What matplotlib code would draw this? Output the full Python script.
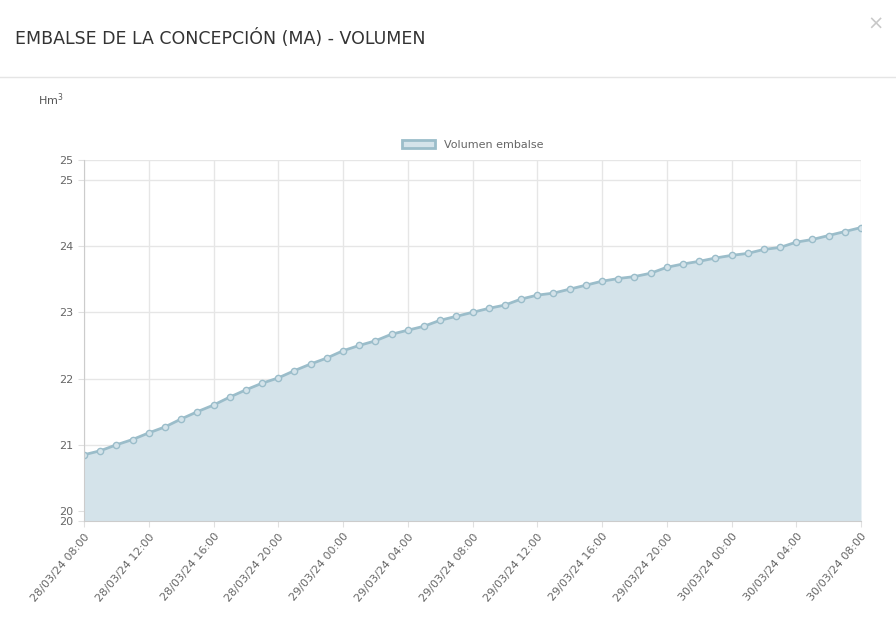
import matplotlib.pyplot as plt
import numpy as np

volumen = [20.85, 20.91, 21.00, 21.08, 21.18, 21.27, 21.39, 21.50, 21.60, 21.72,
           21.83, 21.93, 22.01, 22.12, 22.22, 22.31, 22.42, 22.50, 22.57, 22.67,
           22.73, 22.79, 22.88, 22.94, 23.00, 23.06, 23.11, 23.20, 23.26, 23.29,
           23.35, 23.41, 23.47, 23.51, 23.54, 23.59, 23.68, 23.73, 23.77, 23.82,
           23.86, 23.89, 23.95, 23.98, 24.06, 24.10, 24.16, 24.22, 24.28]
tick_labels = ["28/03/24 08:00", "28/03/24 12:00", "28/03/24 16:00", "28/03/24 20:00",
               "29/03/24 00:00", "29/03/24 04:00", "29/03/24 08:00", "29/03/24 12:00",
               "29/03/24 16:00", "29/03/24 20:00", "30/03/24 00:00", "30/03/24 04:00",
               "30/03/24 08:00"]
y_min, y_max = 19.85, 25.3
y_ticks = [y_min, 20, 21, 22, 23, 24, 25, y_max]
y_labels = ["20", "20", "21", "22", "23", "24", "25", "25"]

line_c = "#9bbdca"
fill_c = "#d4e3ea"

fig = plt.figure(figsize=(8.96, 6.27), dpi=100)
fig.text(15 / 896, 1 - 38 / 627, "EMBALSE DE LA CONCEPCIÓN (MA) - VOLUMEN",
         fontsize=12.5, color="#333333", va="center")
fig.text(876 / 896, 1 - 24 / 627, "×", fontsize=14, color="#c8c8c8", va="center", ha="center")
fig.add_artist(plt.Line2D([0, 1], [1 - 77 / 627] * 2, color="#e5e5e5", lw=1))
fig.text(38 / 896, 1 - 100 / 627, "Hm$^3$", fontsize=8, color="#555555", va="center")

ax = fig.add_axes([84 / 896, 1 - 521 / 627, 777 / 896, 361 / 627])
x = np.arange(len(volumen))
ax.fill_between(x, volumen, y_min, color=fill_c, lw=0)
ax.plot(x, volumen, color=line_c, lw=2, marker="o", ms=4.5,
        markerfacecolor=fill_c, markeredgecolor=line_c, label="Volumen embalse")
ax.set_xlim(0, len(volumen) - 1)
ax.set_ylim(y_min, y_max)
ax.set_xticks(np.arange(0, len(volumen), 4))
ax.set_xticklabels(tick_labels, rotation=50, ha="right", rotation_mode="anchor",
                   fontsize=8, color="#666666")
ax.set_yticks(y_ticks)
ax.set_yticklabels(y_labels, fontsize=8, color="#666666")
ax.grid(color="#e6e6e6", lw=1)
ax.tick_params(length=4, color="#e0e0e0")
for s in ["top", "right"]:
    ax.spines[s].set_visible(False)
for s in ["left", "bottom"]:
    ax.spines[s].set_color("#cccccc")
ax.set_axisbelow(True)

from matplotlib.patches import Patch
ax.legend(handles=[Patch(facecolor=fill_c, edgecolor=line_c, lw=2, label="Volumen embalse")],
          loc="lower center", bbox_to_anchor=(0.5, 1.0), frameon=False, fontsize=8,
          handlelength=3, labelcolor="#666666")

fig.savefig("out.png", dpi=100)
